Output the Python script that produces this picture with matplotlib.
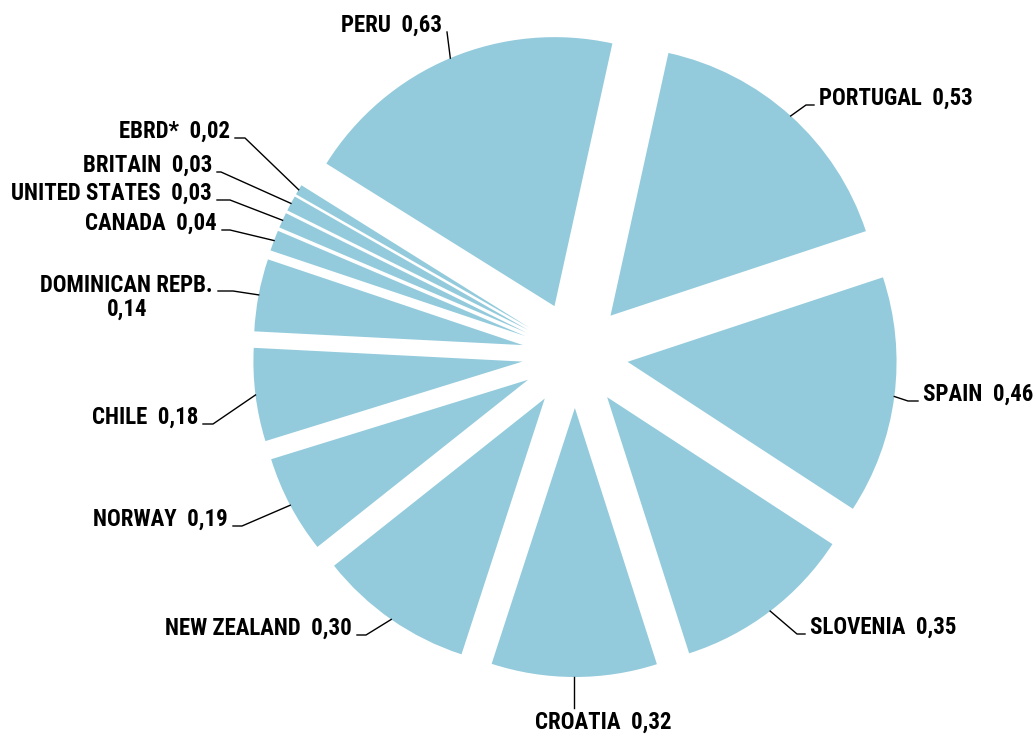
import numpy as np
import matplotlib.pyplot as plt

plt.rcParams['font.family'] = ['Liberation Sans Narrow', 'Roboto Condensed',
                               'DejaVu Sans Condensed', 'Liberation Sans']

# data
countries = ['PERU', 'PORTUGAL', 'SPAIN', 'SLOVENIA', 'CROATIA', 'NEW ZEALAND',
             'NORWAY', 'CHILE', 'DOMINICAN REPB.', 'CANADA', 'UNITED STATES',
             'BRITAIN', 'EBRD*']
values = [0.63, 0.53, 0.46, 0.35, 0.32, 0.30, 0.19, 0.18, 0.14, 0.04, 0.03, 0.03, 0.02]

# label layout in pixels: text x, leader y, alignment, stub length, text baseline y
label_layout = [
    (442, 32, 'right', 0, 32),
    (819, 105, 'left', 8, 105),
    (923, 401, 'left', 10, 401),
    (810, 634, 'left', 8, 634),
    (535, 708, 'left', None, 729),   # croatia: vertical leader
    (352, 635, 'right', 9, 635),
    (228, 526, 'right', 9, 526),
    (198, 424, 'right', 10, 424),
    (213, 291, 'right', 15, 316),
    (217, 230, 'right', 8, 230),
    (212, 200, 'right', 13, 200),
    (212, 172, 'right', 4, 172),
    (230, 138, 'right', 10, 138),
]

W, H = 1033, 735
CX, CY, R = 575, 355, 269   # pie centre and radius in pixels


def px(x, y):
    # pixel (from top-left) -> data coords
    return (x - CX) / R, (CY - y) / R


fig = plt.figure(figsize=(W / 100, H / 100), dpi=100)
ax = fig.add_axes([0, 0, 1, 1])

wedges, _ = ax.pie(values, startangle=148, counterclock=False,
                   explode=[0.197] * len(values), radius=1,
                   colors=['#93cbdc'], wedgeprops=dict(linewidth=0))
ax.set_xlim(-CX / R, (W - CX) / R)
ax.set_ylim(-(H - CY) / R, CY / R)
ax.axis('off')

gap = 5
for w, name, v, (tx, ly_, ha, stub, ty) in zip(wedges, countries, values, label_layout):
    ang = np.deg2rad((w.theta1 + w.theta2) / 2)
    x0 = w.center[0] + w.r * np.cos(ang)
    y0 = w.center[1] + w.r * np.sin(ang)
    val = f'{v:.2f}'.replace('.', ',')
    if name == 'DOMINICAN REPB.':
        txt = f'{name}\n{val}'
    else:
        txt = f'{name}  {val}'

    # leader line
    if stub is None:
        xs = [x0, x0]
        ys = [y0, px(0, ly_)[1]]
    else:
        sign = 1 if ha == 'right' else -1
        ex, ey = px(tx + sign * gap, ly_)
        bx, _ = px(tx + sign * (gap + stub), ly_)
        xs = [x0, bx, ex]
        ys = [y0, ey, ey]
    ax.plot(xs, ys, color='black', linewidth=1.0)

    lx, ly = px(tx, ty)
    ax.text(lx, ly, txt, ha=ha, va='baseline', multialignment='center',
            fontsize=16.5, fontweight='bold', color='black', linespacing=1.05)

fig.savefig('out.png', dpi=100)
